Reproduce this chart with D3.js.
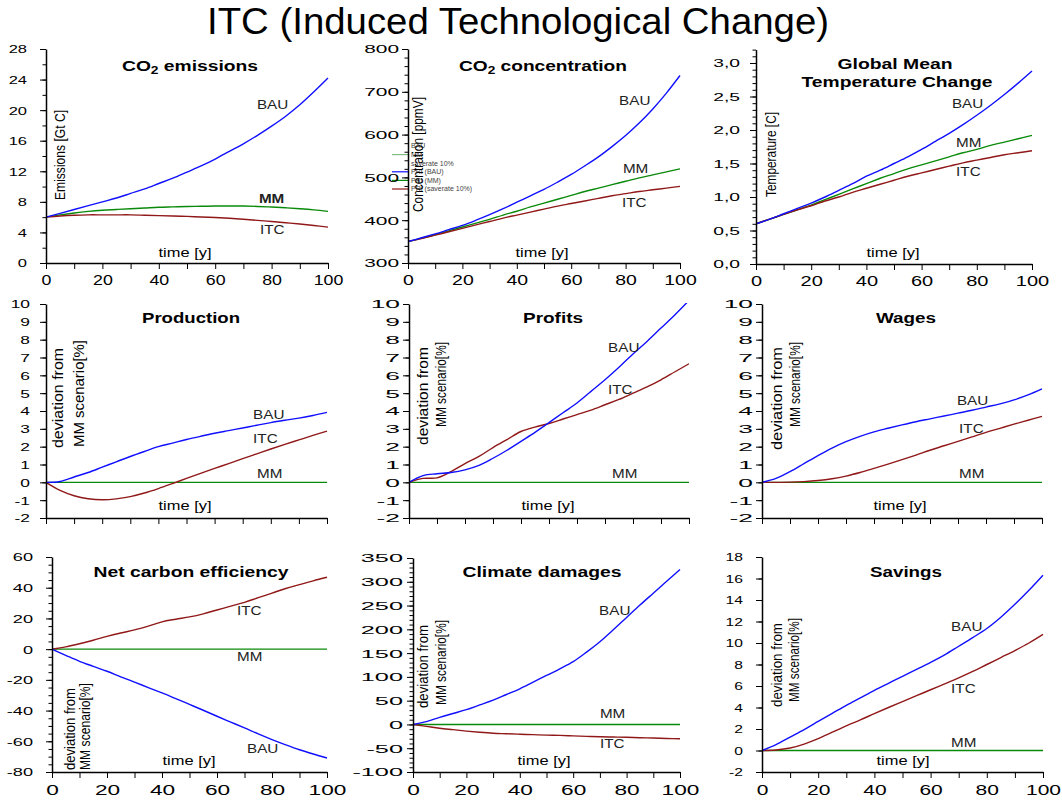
<!DOCTYPE html>
<html>
<head>
<meta charset="utf-8">
<script src="https://cdn.jsdelivr.net/npm/d3@7"></script>
<style>
  body { margin: 0; background: #fff; }
  svg { display: block; font-family: "Liberation Sans", Arial, sans-serif; }
</style>
</head>
<body>
<svg width="1062" height="801"></svg>
<script>
const mainTitle = 'ITC (Induced Technological Change)';
const years = [0, 5, 10, 15, 20, 25, 30, 35, 40, 45, 50, 55, 60, 65, 70, 75, 80, 85, 90, 95, 100];
const zeroMM = [0, 0, 0, 0, 0, 0, 0, 0, 0, 0, 0, 0, 0, 0, 0, 0, 0, 0, 0, 0, 0];

// CO2 emissions [Gt C]
const emisBAU = [6.0, 6.5, 7.0, 7.5, 8.0, 8.5, 9.1, 9.7, 10.4, 11.1, 11.9, 12.7, 13.6, 14.6, 15.6, 16.7, 17.9, 19.2, 20.7, 22.4, 24.2];
const emisMM  = [6.0, 6.3, 6.55, 6.75, 6.9, 7.0, 7.1, 7.2, 7.3, 7.35, 7.4, 7.42, 7.45, 7.45, 7.45, 7.4, 7.32, 7.22, 7.1, 6.95, 6.75];
const emisITC = [6.0, 6.15, 6.25, 6.3, 6.3, 6.3, 6.3, 6.25, 6.2, 6.15, 6.1, 6.02, 5.95, 5.85, 5.72, 5.58, 5.43, 5.27, 5.1, 4.9, 4.7];

// CO2 concentration [ppmV]
const concBAU = [350, 359, 368, 378, 388, 400, 413, 427, 442, 457, 472, 489, 507, 527, 548, 572, 598, 627, 660, 697, 738];
const concMM  = [350, 358, 366, 375, 384, 393, 402, 412, 421, 431, 440, 449, 458, 467, 475, 483, 491, 499, 506, 513, 520];
const concITC = [350, 357, 365, 373, 381, 389, 397, 405, 412, 419, 426, 433, 439, 445, 451, 457, 462, 467, 471, 475, 479];

// temperature [C]
const tempBAU = [0.6, 0.67, 0.75, 0.83, 0.91, 1.0, 1.1, 1.2, 1.31, 1.4, 1.5, 1.6, 1.71, 1.83, 1.95, 2.08, 2.22, 2.37, 2.53, 2.7, 2.88];
const tempMM  = [0.6, 0.67, 0.74, 0.81, 0.88, 0.96, 1.04, 1.12, 1.2, 1.28, 1.35, 1.42, 1.48, 1.54, 1.6, 1.66, 1.71, 1.77, 1.82, 1.87, 1.92];
const tempITC = [0.6, 0.67, 0.74, 0.81, 0.87, 0.94, 1.0, 1.07, 1.13, 1.19, 1.25, 1.31, 1.36, 1.41, 1.46, 1.51, 1.55, 1.59, 1.63, 1.66, 1.69];

// deviations from MM scenario [%]
const prodBAU = [0, 0.05, 0.3, 0.55, 0.85, 1.15, 1.45, 1.73, 2.0, 2.2, 2.4, 2.58, 2.75, 2.9, 3.05, 3.2, 3.35, 3.48, 3.6, 3.75, 3.92];
const prodITC = [0, -0.45, -0.75, -0.92, -0.98, -0.93, -0.8, -0.6, -0.35, -0.07, 0.22, 0.5, 0.78, 1.05, 1.33, 1.6, 1.87, 2.13, 2.38, 2.63, 2.87];
const profBAU = [0, 0.38, 0.48, 0.55, 0.7, 0.95, 1.35, 1.8, 2.3, 2.8, 3.35, 3.9, 4.45, 5.1, 5.75, 6.45, 7.2, 7.9, 8.65, 9.4, 10.2];
const profITC = [0, 0.22, 0.25, 0.6, 1.05, 1.45, 1.95, 2.4, 2.85, 3.1, 3.3, 3.55, 3.8, 4.05, 4.35, 4.65, 5.0, 5.35, 5.75, 6.2, 6.65];
const wageBAU = [0, 0.22, 0.6, 1.05, 1.5, 1.92, 2.28, 2.58, 2.83, 3.03, 3.22, 3.4, 3.56, 3.72, 3.88, 4.04, 4.22, 4.4, 4.62, 4.9, 5.24];
const wageITC = [0, 0, 0.01, 0.04, 0.1, 0.2, 0.35, 0.55, 0.78, 1.02, 1.27, 1.53, 1.8, 2.05, 2.3, 2.55, 2.8, 3.03, 3.26, 3.48, 3.7];
const effiBAU = [0, -4, -7.9, -11.2, -14.4, -18, -21.5, -25, -28.5, -32.2, -36, -39.8, -43.7, -47.5, -51.3, -55.2, -58.9, -62.3, -65.5, -68.3, -70.9];
const effiITC = [0, 1.5, 3.5, 5.8, 8.3, 10.5, 12.5, 15, 17.8, 19.5, 21, 23, 25.5, 28, 30.5, 33.5, 36.5, 39.5, 42, 44.5, 46.8];
const dmgBAU  = [0, 6, 15, 23, 31, 41, 51, 63, 75, 89, 103, 117, 132, 152, 174, 199, 225, 251, 276, 301, 326];
const dmgITC  = [0, -4, -8, -11, -14, -16.5, -18.5, -19.5, -20.5, -21.5, -22.5, -23, -24, -25, -26, -26.5, -27, -28, -28.5, -29.5, -30];
const saveBAU = [0, 0.55, 1.25, 1.95, 2.7, 3.45, 4.2, 4.9, 5.6, 6.25, 6.9, 7.55, 8.2, 8.9, 9.7, 10.5, 11.35, 12.4, 13.6, 14.9, 16.3];
const saveITC = [0, 0.05, 0.23, 0.6, 1.1, 1.7, 2.3, 2.85, 3.43, 4.0, 4.55, 5.1, 5.65, 6.2, 6.75, 7.35, 8.0, 8.65, 9.3, 10.0, 10.8];

const legendLabels = ['BAU', 'MM', 'saverate 10%', 'PRI (BAU)', 'PRI (MM)', 'PRI (saverate 10%)'];

const colors = { BAU: '#1010ff', MM: '#0a8a0a', ITC: '#901818' };
const devLabel = ['deviation from', 'MM scenario[%]'];

const panels = [
  { title: [['CO', ''], ['2', 'sub'], [' emissions', '']], tx: 190, ty: 71, tl: 136,
    x0: 46, x1: 328, yB: 263, yT: 49, dom: [0, 28], major: 4, minor: 2, gap: 19, ys: 1.5, xs: 1.27, xLab: true,
    series: [['MM', emisMM], ['ITC', emisITC], ['BAU', emisBAU]],
    labels: [['BAU', 74.8, 20.15], ['MM', 75.5, 7.85, true], ['ITC', 75.9, 3.8]],
    axisLabel: [['Emissions [Gt C]', 65, 200, 90]], timeX: 185, timeY: 257 },
  { title: [['CO', ''], ['2', 'sub'], [' concentration', '']], tx: 543, ty: 71, tl: 168,
    x0: 408, x1: 680, yB: 263, yT: 49, dom: [300, 800], major: 100, minor: 20, gap: 9, ys: 1.9, xs: 1.39, xLab: true,
    series: [['MM', concMM], ['ITC', concITC], ['BAU', concBAU]],
    labels: [['BAU', 77.6, 669], ['MM', 79, 510], ['ITC', 78.7, 431]],
    axisLabel: [['Concentration [ppmV]', 423, 212, 115]], timeX: 542, timeY: 257, legend: true },
  { title: [['Global Mean', '']], title2: 'Temperature Change', tx: 895, ty: 69, tl: 115, t2y: 87, t2l: 191,
    x0: 756, x1: 1032, yB: 264, yT: 49.6, dom: [0, 3.2], majorMax: 3.0, major: 0.5, minor: 0.1, gap: 16, ys: 1.75, xs: 1.43, xLab: true,
    fmt: d => d.toFixed(1).replace('.', ','),
    series: [['MM', tempMM], ['ITC', tempITC], ['BAU', tempBAU]],
    labels: [['BAU', 71, 2.33], ['MM', 72.5, 1.75], ['ITC', 72.5, 1.31]],
    axisLabel: [['Temperature [C]', 776, 197, 85]], timeX: 893, timeY: 257 },
  { title: [['Production', '']], tx: 191, ty: 323, tl: 98,
    x0: 46, x1: 327, yB: 518, yT: 304, dom: [-2, 10], major: 1, minor: 1, gap: 16, ys: 1.58, xLab: false,
    series: [['MM', zeroMM], ['ITC', prodITC], ['BAU', prodBAU]],
    labels: [['BAU', 73.7, 3.55], ['ITC', 73.7, 2.2], ['MM', 75.1, 0.24]],
    axisLabel: [[devLabel[0], 63, 448, 100], [devLabel[1], 84, 447, 107]], timeX: 185, timeY: 510 },
  { title: [['Profits', '']], tx: 553, ty: 323, tl: 60,
    x0: 409, x1: 689, yB: 518, yT: 304, dom: [-2, 10], major: 1, minor: 1, gap: 9, ys: 2.4, xLab: false,
    series: [['MM', zeroMM], ['ITC', profITC], ['BAU', profBAU]],
    labels: [['BAU', 71.1, 7.31], ['ITC', 71.1, 4.95], ['MM', 72.5, 0.24]],
    axisLabel: [[devLabel[0], 428, 445, 98], [devLabel[1], 446, 427, 85]], timeX: 548, timeY: 510 },
  { title: [['Wages', '']], tx: 906, ty: 323, tl: 60,
    x0: 762, x1: 1042, yB: 518, yT: 304, dom: [-2, 10], major: 1, minor: 1, gap: 9, ys: 2.4, xLab: false,
    series: [['MM', zeroMM], ['ITC', wageITC], ['BAU', wageBAU]],
    labels: [['BAU', 69.6, 4.34], ['ITC', 70.4, 2.77], ['MM', 70.4, 0.24]],
    axisLabel: [[devLabel[0], 782, 450, 103], [devLabel[1], 800, 427, 85]], timeX: 900, timeY: 510 },
  { title: [['Net carbon efficiency', '']], tx: 191, ty: 577, tl: 195,
    x0: 52, x1: 327, yB: 772, yT: 557, dom: [-80, 60], major: 20, minor: 5, gap: 19, ys: 1.65, xs: 1.62, xLab: true,
    series: [['MM', zeroMM], ['ITC', effiITC], ['BAU', effiBAU]],
    labels: [['ITC', 67.3, 22.2], ['MM', 67.3, -7.75], ['BAU', 70.9, -67.6]],
    axisLabel: [[devLabel[0], 75, 770, 82], [devLabel[1], 90, 770, 87]], timeX: 189, timeY: 765 },
  { title: [['Climate damages', '']], tx: 542, ty: 577, tl: 159,
    x0: 413, x1: 680, yB: 772, yT: 558, dom: [-100, 350], major: 50, minor: 10, gap: 10, ys: 2.3, xs: 1.62, xLab: true,
    series: [['MM', zeroMM], ['ITC', dmgITC], ['BAU', dmgBAU]],
    labels: [['BAU', 69.7, 230], ['MM', 70, 13.5], ['ITC', 70, -49.6]],
    axisLabel: [[devLabel[0], 428, 708, 83], [devLabel[1], 446, 705, 85]], timeX: 544, timeY: 765 },
  { title: [['Savings', '']], tx: 906, ty: 577, tl: 72,
    x0: 762, x1: 1043, yB: 772, yT: 557, dom: [-2, 18], major: 2, minor: 2, gap: 19, ys: 1.42, xs: 1.5, xLab: true,
    series: [['MM', zeroMM], ['ITC', saveITC], ['BAU', saveBAU]],
    labels: [['BAU', 67.3, 11.1], ['ITC', 67.3, 5.35], ['MM', 67.3, 0.33]],
    axisLabel: [[devLabel[0], 782, 707, 84], [devLabel[1], 799, 702, 84]], timeX: 903, timeY: 765 }
];

const svg = d3.select('svg');

svg.append('text')
  .attr('x', 207).attr('y', 34)
  .attr('font-family', '"Liberation Sans Narrow", "Liberation Sans", Arial, sans-serif')
  .attr('font-size', 36)
  .attr('textLength', 622).attr('lengthAdjust', 'spacingAndGlyphs')
  .text(mainTitle);

const steps = (lo, hi, st) => d3.range(0, Math.round((hi - lo) / st) + 1).map(k => +(lo + k * st).toFixed(6));
const tens = steps(0, 100, 10);

panels.forEach((p, i) => {
  const x = d3.scaleLinear().domain([0, 100]).range([p.x0, p.x1]);
  const y = d3.scaleLinear().domain(p.dom).range([p.yB, p.yT]);
  const g = svg.append('g');

  g.append('clipPath').attr('id', 'clip' + i)
    .append('rect').attr('x', p.x0).attr('y', p.yT - 1)
    .attr('width', p.x1 - p.x0 + 2).attr('height', p.yB - p.yT + 2);

  // legend remnant in the concentration panel
  if (p.legend) {
    const ly = d3.scaleLinear().domain([0, 5]).range([146, 189]);
    const lineCols = [null, '#7fbf7f', null, colors.BAU, colors.MM, colors.ITC];
    legendLabels.forEach((t, k) => {
      if (lineCols[k]) g.append('line').attr('x1', p.x0 - 16).attr('x2', p.x0)
        .attr('y1', ly(k)).attr('y2', ly(k)).attr('stroke', lineCols[k]).attr('stroke-width', 1.2);
      g.append('text').attr('x', p.x0 + 3).attr('y', ly(k)).attr('dy', '0.35em')
        .attr('font-size', 7).attr('fill', '#444').text(t);
    });
  }

  const line = d3.line().x(d => x(d[0])).y(d => y(d[1])).curve(d3.curveCatmullRom.alpha(0.5));
  p.series.forEach(([name, vals]) => {
    g.append('path')
      .datum(years.map((t, k) => [t, vals[k]]))
      .attr('clip-path', `url(#clip${i})`)
      .attr('fill', 'none')
      .attr('stroke', colors[name])
      .attr('stroke-width', 1.4)
      .attr('d', line);
  });

  // y axis: minor ticks, then labelled major ticks
  const yMinor = g.append('g').attr('transform', `translate(${p.x0},0)`)
    .call(d3.axisLeft(y).tickValues(steps(p.dom[0], p.dom[1], p.minor)).tickSize(3.5).tickSizeOuter(0).tickFormat(''));
  yMinor.select('.domain').remove();

  const majors = steps(p.dom[0], p.majorMax !== undefined ? p.majorMax : p.dom[1], p.major);
  const yAx = g.append('g').attr('transform', `translate(${p.x0},0)`)
    .call(d3.axisLeft(y).tickValues(majors).tickSize(6).tickSizeOuter(0).tickFormat(p.fmt || (d => String(d))));
  yAx.select('.domain').attr('stroke-width', 1.5);
  yAx.selectAll('.tick text')
    .attr('x', 0).attr('dy', '0.36em')
    .attr('transform', `translate(${-p.gap},0) scale(${p.ys},1)`)
    .attr('font-size', 11).attr('font-family', '"Liberation Sans", Arial, sans-serif').attr('fill', '#000');

  // x axis
  const xAx = g.append('g').attr('transform', `translate(0,${p.yB})`)
    .call(d3.axisBottom(x).tickValues(tens).tickSize(6).tickSizeOuter(0)
      .tickFormat(d => (p.xLab && d % 20 === 0) ? String(d) : ''));
  xAx.select('.domain').attr('stroke-width', 1.5);
  xAx.selectAll('.tick text')
    .attr('y', 0).attr('dy', 0)
    .attr('transform', `translate(0,${p.yB > 700 ? 23 : 22}) scale(${p.xs || 1},1)`)
    .attr('font-size', 14).attr('font-family', '"Liberation Sans", Arial, sans-serif').attr('fill', '#000');

  // panel title
  const tt = g.append('text').attr('x', p.tx).attr('y', p.ty)
    .attr('text-anchor', 'middle').attr('font-weight', 'bold').attr('font-size', 14)
    .attr('textLength', p.tl).attr('lengthAdjust', 'spacingAndGlyphs');
  p.title.forEach(([t, kind]) => {
    const sp = tt.append('tspan').text(t);
    if (kind === 'sub') sp.attr('font-size', 10).attr('dy', 3);
    else if (sp.node().previousSibling) sp.attr('dy', -3);
  });
  if (p.title2) {
    g.append('text').attr('x', p.tx + 2).attr('y', p.t2y)
      .attr('text-anchor', 'middle').attr('font-weight', 'bold').attr('font-size', 14)
      .attr('textLength', p.t2l).attr('lengthAdjust', 'spacingAndGlyphs').text(p.title2);
  }

  // series labels
  p.labels.forEach(([t, tv, vv, bold]) => {
    g.append('text')
      .attr('transform', `translate(${x(tv)},${y(vv)}) scale(1.27,1)`)
      .attr('font-size', 12).attr('fill', '#222')
      .attr('font-weight', bold ? 'bold' : 'normal')
      .text(t);
  });

  // rotated axis label(s)
  p.axisLabel.forEach(([t, bx, by, len]) => {
    g.append('text')
      .attr('transform', `translate(${bx},${by}) rotate(-90)`)
      .attr('font-size', p.axisLabel.length > 1 ? 15 : 14)
      .attr('textLength', len).attr('lengthAdjust', 'spacingAndGlyphs')
      .text(t);
  });

  g.append('text').attr('x', p.timeX).attr('y', p.timeY)
    .attr('text-anchor', 'middle').attr('font-size', 13)
    .attr('textLength', 53).attr('lengthAdjust', 'spacingAndGlyphs')
    .text('time [y]');
});
</script>
</body>
</html>
